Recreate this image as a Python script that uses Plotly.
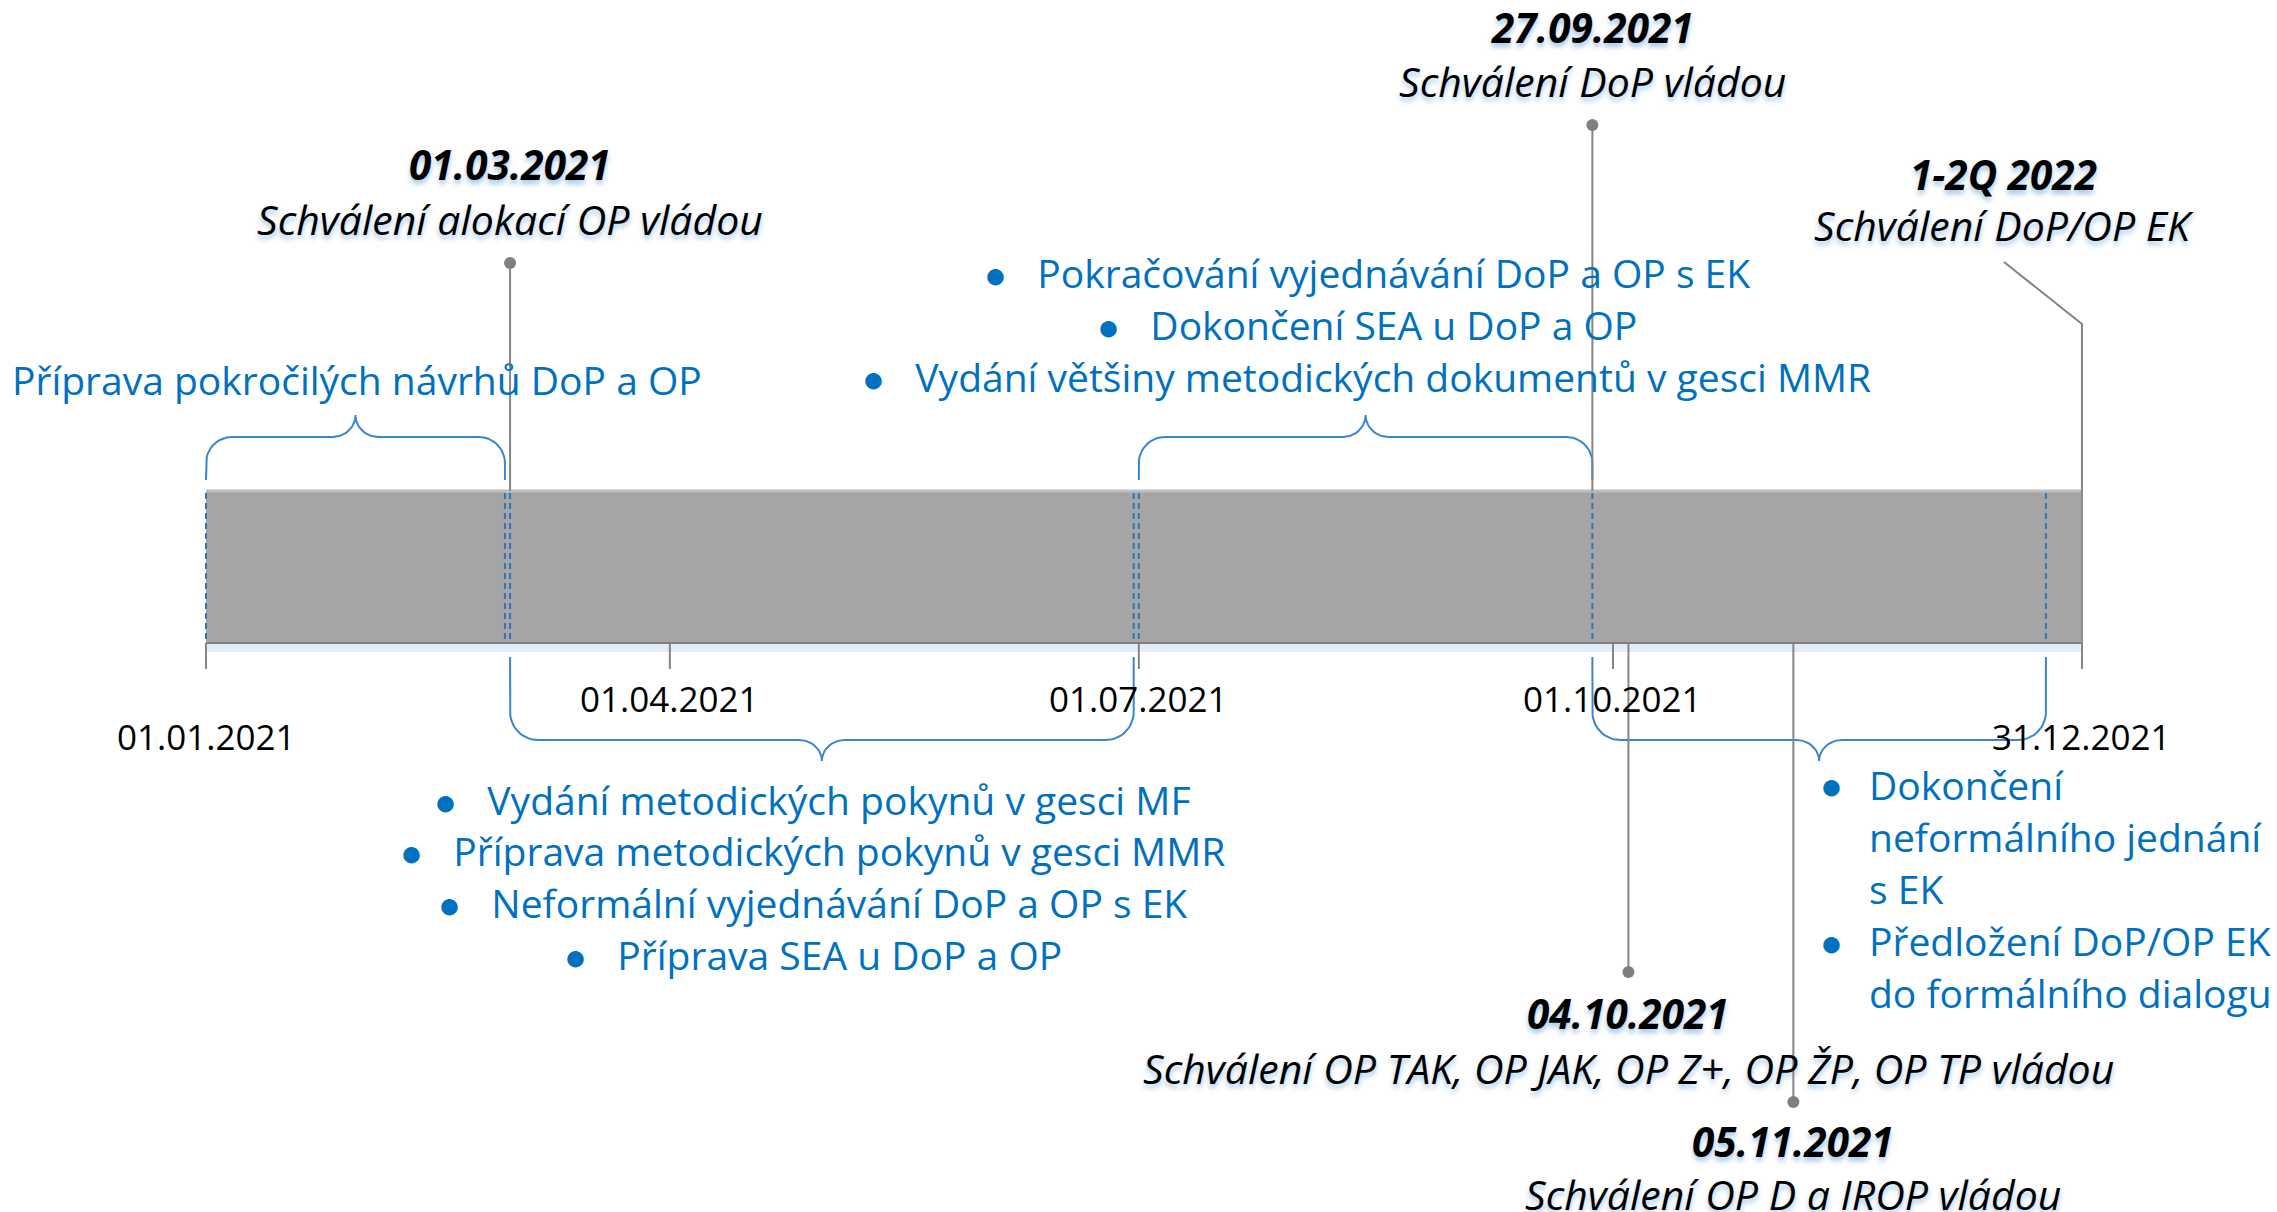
import numpy as np
import pandas as pd
import plotly.graph_objects as go

# ---------------- data ----------------
tick_dates = ["2021-01-01", "2021-04-01", "2021-07-01", "2021-10-01", "2021-12-31"]
tick_labels = ["01.01.2021", "01.04.2021", "01.07.2021", "01.10.2021", "31.12.2021"]
tick_label_row = [1, 0, 0, 0, 1]  # 0 = upper row, 1 = lower row

milestone_dates = ["2021-03-01", "2021-09-27", "2021-10-04", "2021-11-05", "2021-12-31"]
milestone_titles = ["01.03.2021", "27.09.2021", "04.10.2021", "05.11.2021", "1-2Q 2022"]
milestone_texts = [
    "Schválení alokací OP vládou",
    "Schválení DoP vládou",
    "Schválení OP TAK, OP JAK, OP Z+, OP ŽP, OP TP vládou",
    "Schválení OP D a IROP vládou",
    "Schválení DoP/OP EK",
]
milestone_side = ["above", "above", "below", "below", "above"]

phase_starts = ["2021-01-01", "2021-03-01", "2021-07-01", "2021-09-27"]
phase_ends = ["2021-02-28", "2021-06-30", "2021-09-27", "2021-12-24"]
phase_side = ["above", "below", "above", "below"]
phase_items = [
    ["Příprava pokročilých návrhů DoP a OP"],
    ["Vydání metodických pokynů v gesci MF",
     "Příprava metodických pokynů v gesci MMR",
     "Neformální vyjednávání DoP a OP s EK",
     "Příprava SEA u DoP a OP"],
    ["Pokračování vyjednávání DoP a OP s EK",
     "Dokončení SEA u DoP a OP",
     "Vydání většiny metodických dokumentů v gesci MMR"],
    ["Dokončení<br>neformálního jednání<br>s EK",
     "Předložení DoP/OP EK<br>do formálního dialogu"],
]

# ---------------- style / layout ----------------
W, H = 2277, 1212
X_RANGE = [pd.Timestamp("2020-11-22 00:43"), pd.Timestamp("2022-02-06 20:10")]
SPAN = X_RANGE[1] - X_RANGE[0]
BAR_TOP, BAR_BOT = 491, 643
FONT = "Open Sans"
BLUE_TXT = "#0070c0"
BRACE_COL = "#3b86cb"
DASH_COL = "#2e75b6"
GRAY = "#858585"
SHADOW = "0px 4px 5px rgba(91,155,213,0.55)"
NB = "\u00a0"
BUL = "<span style='font-size:38px'>●</span>"
BULLET = BUL + NB * 3
SZ_BLUE, SZ_DESC, SZ_TITLE, SZ_TICK = 39, 41, 40.5, 35

ms_layout = [
    dict(dot=263, title=164, text=219, dx=0),
    dict(dot=125, title=27, text=81, dx=0),
    dict(dot=972, title=1013, text=1068, dx=0),
    dict(dot=1102, title=1141, text=1194, dx=0),
    dict(dot=None, title=174, text=225, dx=-78, elbow=(262, 324)),
]
phase_layout = [
    dict(kind="center", y0=379, dy=52, xshift=2, bullet=False),
    dict(kind="center", y0=799, dy=51.7, xshift=-9, bullet=True),
    dict(kind="center", y0=272, dy=52.3, xshift=1, bullet=True),
    dict(kind="left", y0=784, dy=52.2, xshift=12, text_dx=48, bullet=True),
]
brace_geom = {
    "above": dict(tip=480, flat=437, peak=415, r=26, rc=23),
    "below": dict(tip=657, flat=740, peak=761, r=28, rc=23),
}
tick_row_y = [698, 736]


def to_px(d):
    return (pd.Timestamp(d) - X_RANGE[0]) / SPAN * W


def to_date(px):
    return X_RANGE[0] + SPAN * (px / W)


def brace(d0, d1, g, n=14):
    x0, x1 = to_px(d0), to_px(d1)
    xm = (x0 + x1) / 2
    tip, flat, peak, r, rc = g["tip"], g["flat"], g["peak"], g["r"], g["rc"]
    dr = 1 if flat > tip else -1
    t = np.linspace(0, np.pi / 2, n)
    xs = [x0]
    ys = [tip]
    xs += list(x0 + r - r * np.cos(t))
    ys += list(flat - dr * r + dr * r * np.sin(t))
    xs += list(xm - rc + rc * np.sin(t))
    ys += list(peak + (flat - peak) * np.cos(t))
    xr = [2 * xm - v for v in xs[::-1]]
    yr = ys[::-1]
    xa = xs + xr[1:]
    ya = ys + yr[1:]
    return [to_date(v) for v in xa], ya


fig = go.Figure()
shapes = []
bx0, bx1 = tick_dates[0], tick_dates[-1]
# bar glow / body / edges
shapes.append(dict(type="rect", xref="x", yref="y", x0=bx0, x1=bx1, y0=BAR_BOT, y1=BAR_BOT + 9,
                   fillcolor="rgba(189,215,238,0.45)", line=dict(width=0), layer="below"))
shapes.append(dict(type="rect", xref="x", yref="y", x0=bx0, x1=bx1, y0=BAR_TOP, y1=BAR_BOT,
                   fillcolor="#a5a5a5", line=dict(width=0), layer="below"))
shapes.append(dict(type="line", xref="x", yref="y", x0=bx0, x1=bx1, y0=BAR_TOP, y1=BAR_TOP,
                   line=dict(color="#bdbdbd", width=3), layer="below"))
shapes.append(dict(type="line", xref="x", yref="y", x0=bx0, x1=bx1, y0=BAR_BOT, y1=BAR_BOT,
                   line=dict(color="#7f7f7f", width=2), layer="below"))
shapes.append(dict(type="line", xref="x", yref="y", x0=bx1, x1=bx1, y0=BAR_TOP, y1=BAR_BOT,
                   line=dict(color="#8c8c8c", width=2), layer="below"))

# dashed phase boundaries inside the bar
bounds = sorted(set(phase_starts) | set(phase_ends))
dx, dy = [], []
for b in bounds:
    dx += [b, b, None]
    dy += [BAR_TOP + 2, BAR_BOT - 1, None]
fig.add_trace(go.Scatter(x=dx, y=dy, mode="lines",
                         line=dict(color=DASH_COL, width=2, dash="6px,4px"),
                         hoverinfo="skip", showlegend=False))

# axis ticks
tx, ty = [], []
for d in tick_dates:
    tx += [d, d, None]
    ty += [BAR_BOT, BAR_BOT + 26, None]
fig.add_trace(go.Scatter(x=tx, y=ty, mode="lines", line=dict(color=GRAY, width=2),
                         hoverinfo="skip", showlegend=False))

# braces
for s, e, side in zip(phase_starts, phase_ends, phase_side):
    bx, by = brace(s, e, brace_geom[side])
    fig.add_trace(go.Scatter(x=bx, y=by, mode="lines", line=dict(color=BRACE_COL, width=2),
                             hoverinfo="skip", showlegend=False))

# milestone stems and dots
annotations = []
for d, ttl, txt, side, L in zip(milestone_dates, milestone_titles, milestone_texts,
                                milestone_side, ms_layout):
    if L.get("elbow"):
        y_a, y_b = L["elbow"]
        xd = to_date(to_px(d) + L["dx"])
        fig.add_trace(go.Scatter(x=[xd, d, d], y=[y_a, y_b, BAR_TOP], mode="lines",
                                 line=dict(color=GRAY, width=2), hoverinfo="skip", showlegend=False))
    else:
        y_from = BAR_TOP if side == "above" else BAR_BOT
        fig.add_trace(go.Scatter(x=[d, d], y=[y_from, L["dot"]], mode="lines",
                                 line=dict(color=GRAY, width=2), hoverinfo="skip", showlegend=False))
        fig.add_trace(go.Scatter(x=[d], y=[L["dot"]], mode="markers",
                                 marker=dict(color="#7f7f7f", size=12),
                                 hoverinfo="skip", showlegend=False))
    annotations.append(dict(x=d, y=L["title"], xshift=L["dx"], text=ttl, showarrow=False,
                            xanchor="center", yanchor="middle",
                            font=dict(family=FONT, size=SZ_TITLE, color="#000000", style="italic",
                                      weight="bold", shadow=SHADOW)))
    annotations.append(dict(x=d, y=L["text"], xshift=L["dx"], text=txt, showarrow=False,
                            xanchor="center", yanchor="middle",
                            font=dict(family=FONT, size=SZ_DESC, color="#000000", style="italic",
                                      shadow=SHADOW)))

# tick labels
for d, lab, row in zip(tick_dates, tick_labels, tick_label_row):
    annotations.append(dict(x=d, y=tick_row_y[row], text=lab, showarrow=False,
                            xanchor="center", yanchor="middle",
                            font=dict(family=FONT, size=SZ_TICK, color="#000000")))

# phase texts
for s, e, items, L in zip(phase_starts, phase_ends, phase_items, phase_layout):
    mid = to_date((to_px(s) + to_px(e)) / 2)
    line = 0
    for it in items:
        parts = it.split("<br>")
        for k, p in enumerate(parts):
            y = L["y0"] + line * L["dy"]
            if L["kind"] == "center":
                txt = (BULLET + p) if L["bullet"] else p
                annotations.append(dict(x=mid, y=y, xshift=L["xshift"], text=txt, showarrow=False,
                                        xanchor="center", yanchor="middle",
                                        font=dict(family=FONT, size=SZ_BLUE, color=BLUE_TXT)))
            else:
                if k == 0:
                    annotations.append(dict(x=mid, y=y, xshift=L["xshift"], text=BUL,
                                            showarrow=False, xanchor="center", yanchor="middle",
                                            font=dict(family=FONT, size=SZ_BLUE, color=BLUE_TXT)))
                annotations.append(dict(x=mid, y=y, xshift=L["text_dx"], text=p, showarrow=False,
                                        xanchor="left", yanchor="middle",
                                        font=dict(family=FONT, size=SZ_BLUE, color=BLUE_TXT)))
            line += 1

fig.update_layout(
    width=W, height=H,
    margin=dict(l=0, r=0, t=0, b=0),
    paper_bgcolor="white", plot_bgcolor="white",
    xaxis=dict(type="date", range=[str(X_RANGE[0]), str(X_RANGE[1])], visible=False,
               fixedrange=True),
    yaxis=dict(range=[H, 0], visible=False, fixedrange=True),
    shapes=shapes, annotations=annotations, showlegend=False,
)

fig.write_html("out.html", config={"displayModeBar": False},
               post_script="document.body.style.margin='0';document.body.style.overflow='hidden';")
